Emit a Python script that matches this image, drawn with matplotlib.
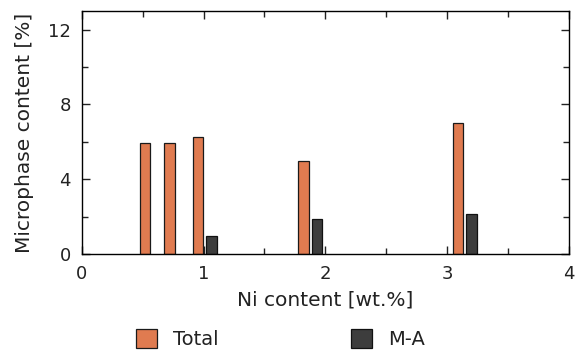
import numpy as np
import matplotlib
matplotlib.use("Agg")
import matplotlib.pyplot as plt
from matplotlib.ticker import MultipleLocator

# Ni content of each steel [wt.%] and measured microphase fractions [%]
ni_total = [0.575, 0.775, 1.01, 1.875, 3.145]
total = [5.95, 5.93, 6.25, 5.0, 7.03]
ni_ma = [1.01, 1.875, 3.145]
ma = [0.97, 1.88, 2.13]

plt.rcParams['font.family'] = ['DejaVu Sans']
plt.rcParams['font.size'] = 13

fig = plt.figure(figsize=(5.84, 3.52), dpi=100)
ax = fig.add_axes([0.140, 0.278, 0.834, 0.691])

w = 0.085
off = 0.055
ax.bar(np.array(ni_total) - off, total, width=w, color='#e07b50',
       edgecolor='#1a1a1a', linewidth=0.9, label='Total', zorder=2)
ax.bar(np.array(ni_ma) + off, ma, width=w, color='#3d3d3d',
       edgecolor='#111111', linewidth=0.9, label='M-A', zorder=2)

ax.set_xlim(0, 4)
ax.set_ylim(0, 13)
ax.xaxis.set_major_locator(MultipleLocator(1))
ax.xaxis.set_minor_locator(MultipleLocator(0.5))
ax.yaxis.set_major_locator(MultipleLocator(4))
ax.yaxis.set_minor_locator(MultipleLocator(2))
ax.tick_params(which='both', direction='in', top=True, right=True, width=1.0,
               colors='#222222', labelcolor='#222222')
ax.tick_params(which='major', length=6)
ax.tick_params(which='minor', length=4)
ax.tick_params(axis='x', pad=7.5)
ax.tick_params(axis='y', pad=8)
for s in ax.spines.values():
    s.set_linewidth(1.0)

ax.set_xlabel('Ni content [wt.%]', fontsize=14.5, labelpad=6, color='#222222')
ax.set_ylabel('Microphase content [%]', fontsize=14.5, labelpad=10, color='#222222')

leg = fig.legend(loc='center', bbox_to_anchor=(0.48, 0.036), ncol=2, frameon=False,
                 fontsize=14, handlelength=1.1, handleheight=1.1, columnspacing=6.8,
                 handletextpad=0.8)
for t in leg.get_texts():
    t.set_color('#222222')

fig.savefig('out.png', dpi=100)
